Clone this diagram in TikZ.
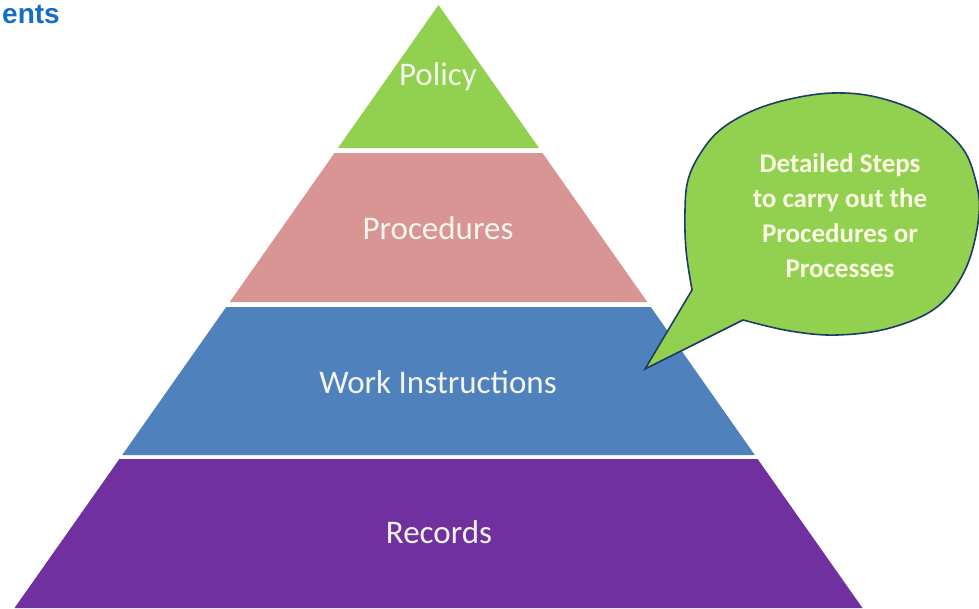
\documentclass[tikz,border=0pt]{standalone}
\usepackage{fontspec}
\setmainfont{Carlito}
\newfontfamily\headfont{Liberation Sans}
\definecolor{polgreen}{RGB}{146,208,80}
\definecolor{procpink}{RGB}{217,149,148}
\definecolor{workblue}{RGB}{79,129,189}
\definecolor{recpurple}{RGB}{112,48,160}
\definecolor{labeltext}{RGB}{244,246,238}
\definecolor{calltext}{RGB}{252,252,228}
\definecolor{callline}{RGB}{30,60,100}
\definecolor{headblue}{RGB}{20,110,195}
\tikzset{
  layerlabel/.style={text=labeltext, font=\fontsize{33}{38}\selectfont, inner sep=0pt},
  calllabel/.style={text=calltext, font=\fontsize{27}{35}\selectfont\bfseries, align=center, inner sep=0pt},
}
\begin{document}
\begin{tikzpicture}[x=1pt,y=-1pt]
\useasboundingbox (0,0) rectangle (979,608);
% layers
\fill[polgreen] (438.5,5) -- (539.0,148) -- (338.0,148) -- cycle;
\fill[procpink] (334.5,153) -- (542.5,153) -- (647.3,302) -- (229.7,302) -- cycle;
\fill[workblue] (226.2,307) -- (650.8,307) -- (754.8,455) -- (122.2,455) -- cycle;
\fill[recpurple] (119.4,459) -- (757.6,459) -- (862.5,608) -- (14.5,608) -- cycle;
% labels
\node[layerlabel] (policy) at (438,77) {Policy};
\node[layerlabel] (proc) at (438,228) {Procedures};
\node[layerlabel] (work) at (438,382) {Work Instructions};
\node[layerlabel] (rec) at (439,532) {Records};
% callout
\filldraw[fill=polgreen, draw=callline, line width=1.6pt, line join=miter]
  plot[smooth, tension=0.6] coordinates {(743,320) (790,331) (837,335) (890,328) (937,307) (966,268) (979,215) (975,178) (960,145) (922,114) (876,97) (833,93) (790,99) (752,111) (720,130) (700,154) (688,180) (685,210) (686,250) (692,290)}
  -- (645,369) -- cycle;
\node[calllabel] (steps) at (840,216) {Detailed Steps\\to carry out the\\Procedures or\\Processes};
% heading fragment
\node[anchor=base west, inner sep=0pt, text=headblue, font=\headfont\bfseries\fontsize{28}{32}\selectfont] (head) at (2,23) {ents};
\end{tikzpicture}
\end{document}
